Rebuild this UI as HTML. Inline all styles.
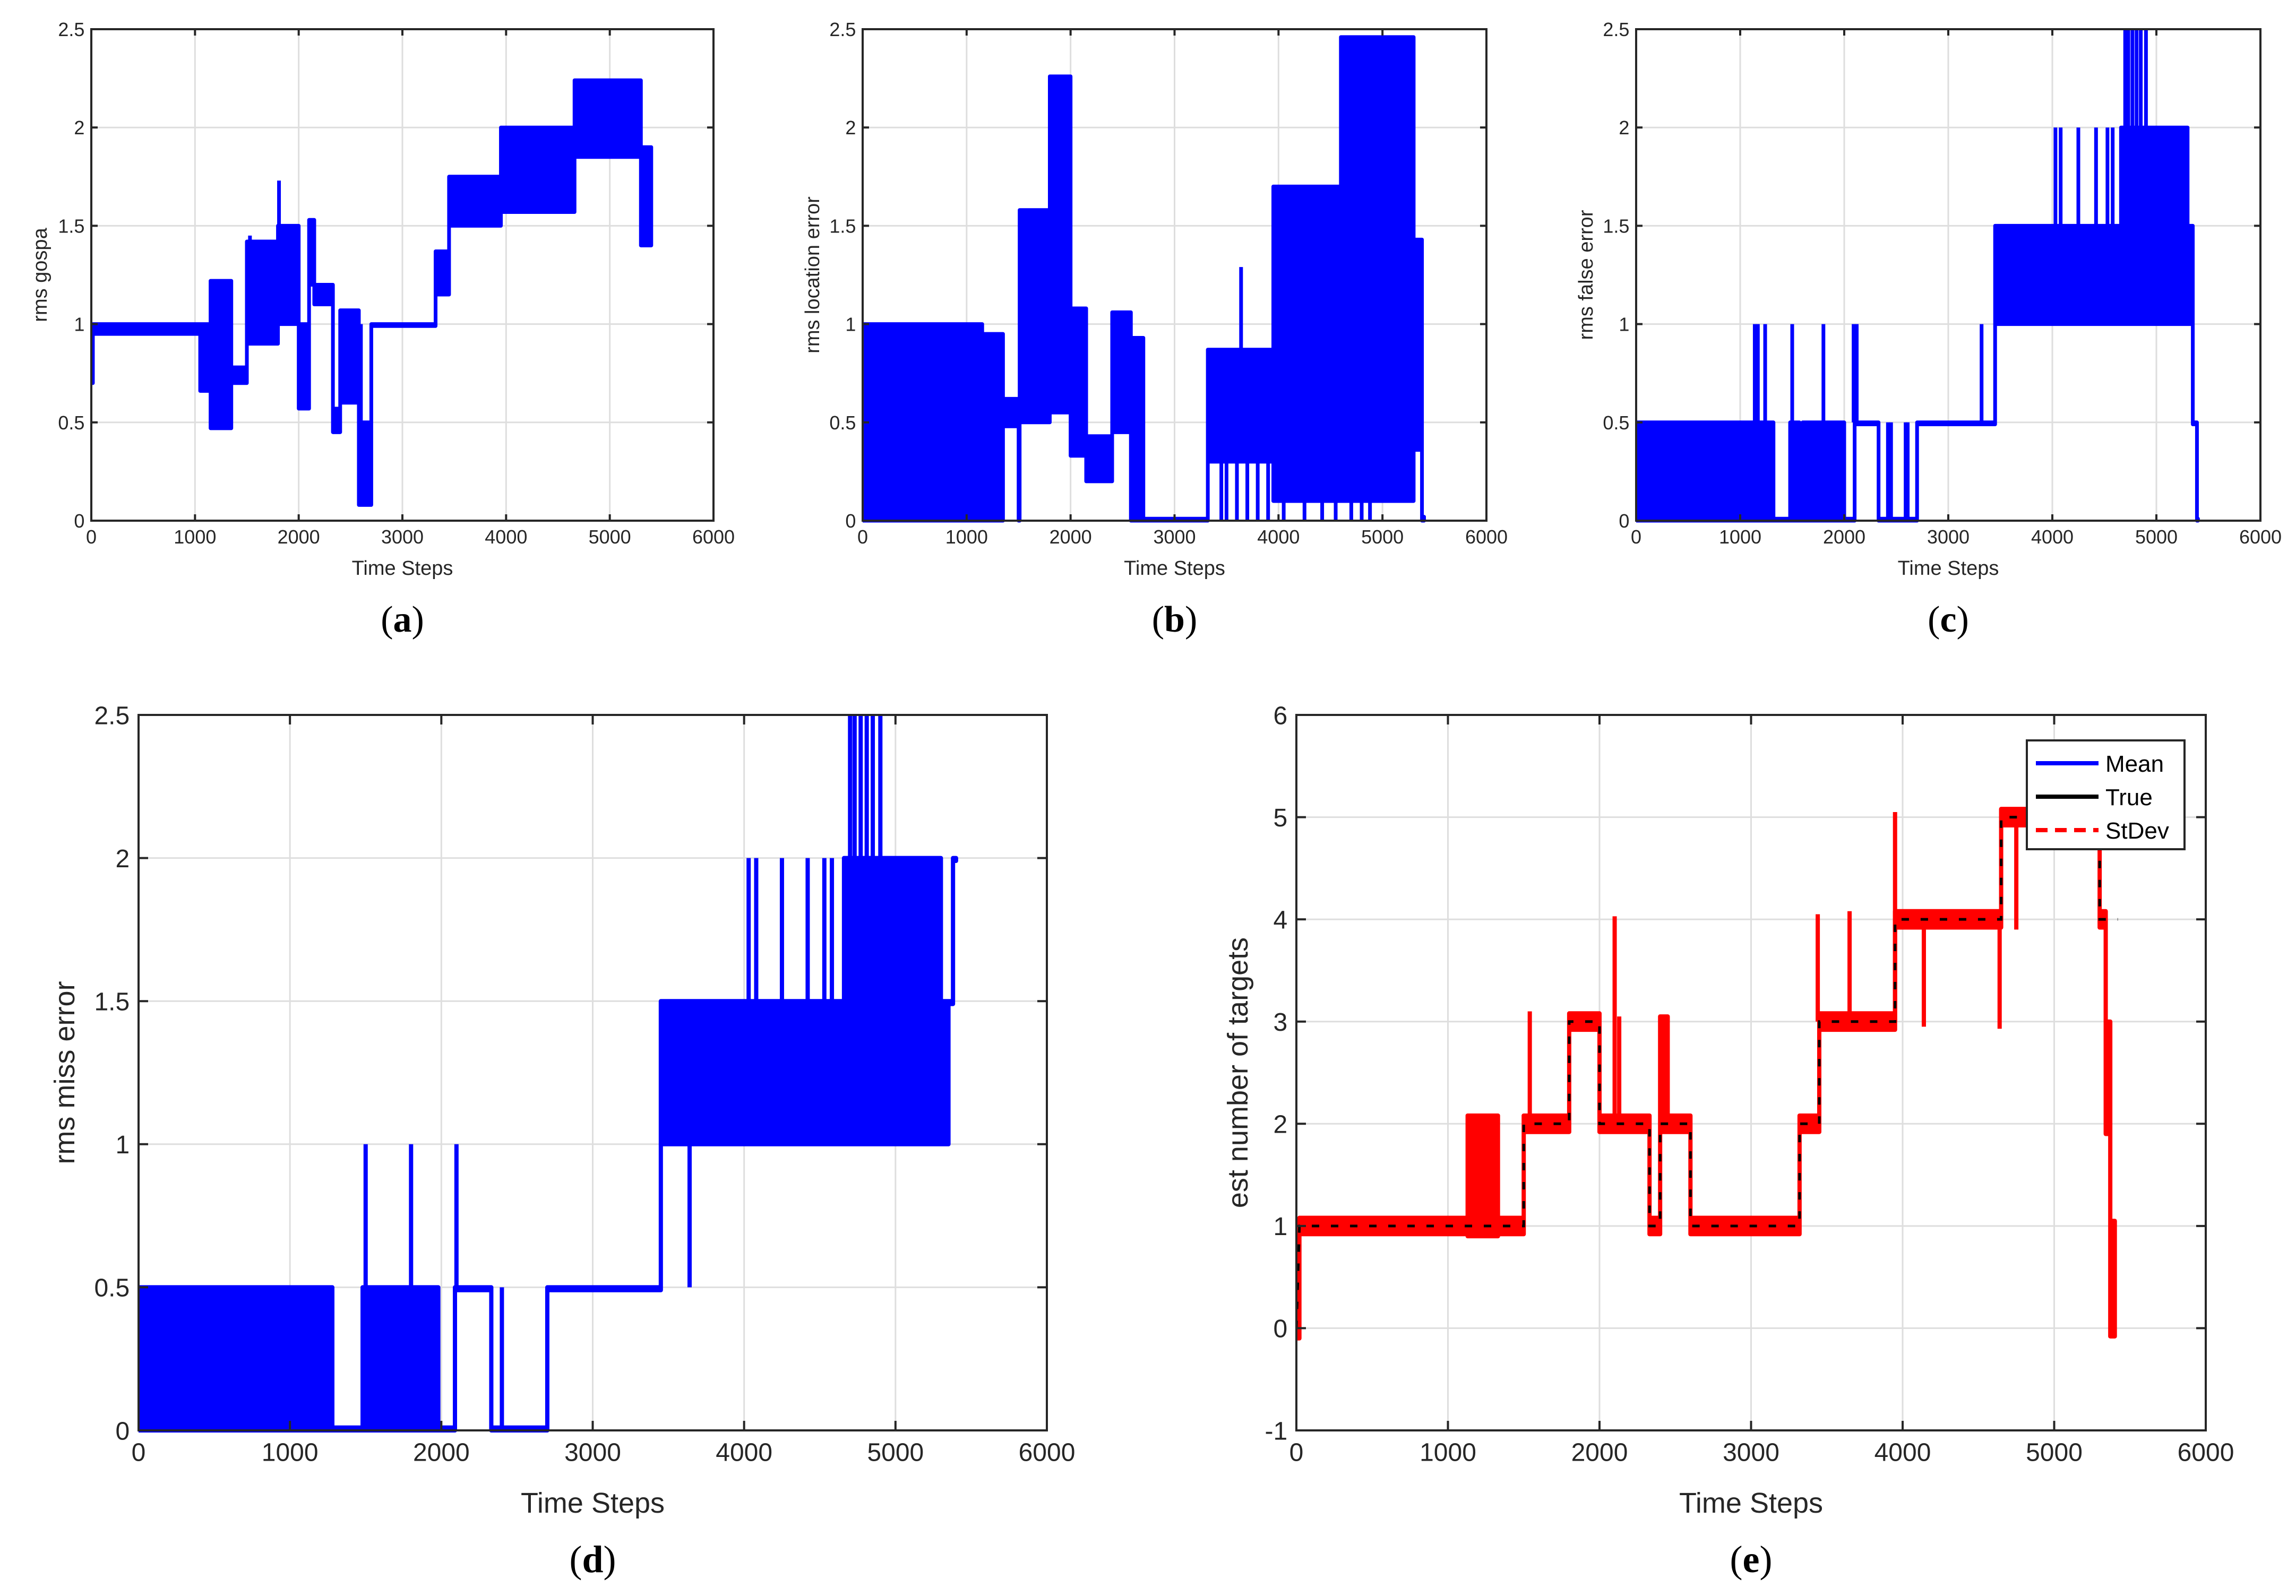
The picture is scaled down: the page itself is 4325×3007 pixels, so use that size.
<!DOCTYPE html>
<html><head><meta charset="utf-8"><style>
html,body{margin:0;padding:0;background:#fff;}
svg{display:block;font-family:"Liberation Sans",Arial,sans-serif;}
</style></head><body>
<svg id="fig" width="4325" height="3007" viewBox="0 0 4325 3007" xmlns="http://www.w3.org/2000/svg"></svg>
<script>
// ---- data (segments: [tStart, tEnd, low, high]) ----
const xTicks = [0,1000,2000,3000,4000,5000,6000];
const yTicksSmall = [0,0.5,1,1.5,2,2.5];
const yTicksE = [-1,0,1,2,3,4,5,6];

const gospaBand = [[0,15,0.7,0.99],[15,1050,0.95,1.0],[1050,1150,0.66,1.0],[1150,1350,0.47,1.22],[1350,1500,0.7,0.78],[1500,1800,0.9,1.42],[1800,2000,1.0,1.5],[2000,2100,0.57,1.0],[2100,2150,1.2,1.53],[2150,2330,1.1,1.2],[2330,2400,0.45,0.57],[2400,2580,0.6,1.07],[2580,2700,0.08,0.5],[2700,3320,0.99,1.0],[3320,3450,1.15,1.37],[3450,3950,1.5,1.75],[3950,4660,1.57,2.0],[4660,5300,1.85,2.24],[5300,5400,1.4,1.9]];
const gospaSpikeT = [1810,2600,1530];
const gospaSpikeLo = [1.2,0.3,1.0];
const gospaSpikeHi = [1.73,1.0,1.45];

const locBand = [[0,1150,0,1.0],[1150,1350,0,0.95],[1350,1500,0.48,0.62],[1500,1510,0,0.6],[1510,1800,0.5,1.58],[1800,2000,0.55,2.26],[2000,2150,0.33,1.08],[2150,2400,0.2,0.43],[2400,2580,0.45,1.06],[2580,2700,0,0.93],[2700,3320,0,0.01],[3320,3950,0.3,0.87],[3950,4600,0.1,1.7],[4600,5300,0.1,2.46],[5300,5380,0.36,1.43],[5380,5400,0,0.02]];
const locSpikeT = [3640,3450,3500,3600,3700,3800,3900,4050,4250,4420,4550,4700,4800,4880];
const locSpikeLo = [0.3,0,0,0,0,0,0,0,0,0,0,0,0,0];
const locSpikeHi = [1.29,0.6,0.6,0.6,0.6,0.6,0.6,0.6,0.6,0.6,0.6,0.6,0.6,0.6];

const falseBand = [[0,1320,0,0.5],[1320,1480,0,0.01],[1480,1570,0,0.5],[1570,1600,0,0.01],[1600,2000,0,0.5],[2000,2100,0,0.01],[2100,2330,0.49,0.5],[2330,2700,0,0.01],[2700,3450,0.49,0.5],[3450,4660,1.0,1.5],[4660,5300,1.0,2.0],[5300,5350,1.0,1.5],[5350,5390,0.49,0.5],[5390,5400,0,0.01]];
const falseSpikeT = [1140,1170,1240,1500,1800,2090,2120,3320,2420,2450,2590,2610,4030,4080,4250,4420,4530,4580,4700,4730,4770,4810,4850,4900];
const falseSpikeLo = [0.5,0.5,0.5,0.5,0.5,0.5,0.5,0.5,0,0,0,0,1.5,1.5,1.5,1.5,1.5,1.5,2,2,2,2,2,2];
const falseSpikeHi = [1,1,1,1,1,1,1,1,0.5,0.5,0.5,0.5,2,2,2,2,2,2,2.5,2.5,2.5,2.5,2.5,2.5];

const missBand = [[0,1280,0,0.5],[1280,1480,0,0.01],[1480,1620,0,0.5],[1620,1980,0,0.5],[1980,2090,0,0.01],[2090,2330,0.49,0.5],[2330,2700,0,0.01],[2700,3450,0.49,0.5],[3450,4660,1.0,1.5],[4660,4760,1.0,2.0],[4760,5300,1.0,2.0],[5300,5350,1.0,1.5],[5350,5380,1.49,1.5],[5380,5400,1.99,2.0]];
const missSpikeT = [1500,1800,2100,2400,3640,4030,4080,4250,4420,4530,4580,4700,4730,4770,4810,4850,4900];
const missSpikeLo = [0.5,0.5,0.5,0,0.5,1.5,1.5,1.5,1.5,1.5,1.5,2,2,2,2,2,2];
const missSpikeHi = [1,1,1,0.5,1,2,2,2,2,2,2,2.5,2.5,2.5,2.5,2.5,2.5];

const trueSteps = [[0,20,0,1],[20,1500,1,1],[1500,1800,2,2],[1800,2000,3,3],[2000,2330,2,2],[2330,2400,1,1],[2400,2600,2,2],[2600,3320,1,1],[3320,3450,2,2],[3450,3950,3,3],[3950,4650,4,4],[4650,5300,5,5],[5300,5420,4,4]];
const estBand = [[0,20,-0.1,1.0],[20,1130,0.92,1.08],[1130,1330,0.9,2.08],[1330,1500,0.92,1.08],[1500,1800,1.92,2.08],[1800,2000,2.92,3.08],[2000,2330,1.92,2.08],[2330,2400,0.92,1.08],[2400,2450,1.92,3.05],[2450,2600,1.92,2.08],[2600,3320,0.92,1.08],[3320,3450,1.92,2.08],[3450,3950,2.92,3.08],[3950,4650,3.92,4.08],[4650,5300,4.92,5.08],[5300,5340,3.92,4.08],[5340,5370,1.9,3.0],[5370,5400,-0.08,1.05]];
const estSpikeT = [1540,2100,2130,3440,3650,3950,4140,4640,4750];
const estSpikeLo = [2.0,2.0,2.0,3.0,3.0,3.0,2.95,2.93,3.9];
const estSpikeHi = [3.1,4.03,3.05,4.05,4.08,5.05,4.0,4.0,5.0];

// ---- drawing ----
const NS = "http://www.w3.org/2000/svg";
const svg = document.getElementById('fig');
function mk(tag, attrs, parent){
  const e = document.createElementNS(NS, tag);
  for (const k in attrs) e.setAttribute(k, attrs[k]);
  (parent||svg).appendChild(e);
  return e;
}
function panel(cfg){
  const g = mk('g', {});
  
  
  const X = t => cfg.x0 + (t - 0) / 6000 * (cfg.x1 - cfg.x0);
  const Y = v => cfg.y1 - (v - cfg.ymin) / (cfg.ymax - cfg.ymin) * (cfg.y1 - cfg.y0);
  mk('rect', {x:cfg.x0, y:cfg.y0, width:cfg.x1-cfg.x0, height:cfg.y1-cfg.y0, fill:'#fff'}, g);
  xTicks.forEach(t => { mk('line', {x1:X(t), x2:X(t), y1:cfg.y0, y2:cfg.y1, stroke:'#dedede', 'stroke-width':3}, g); });
  cfg.yt.forEach(v => { mk('line', {x1:cfg.x0, x2:cfg.x1, y1:Y(v), y2:Y(v), stroke:'#dedede', 'stroke-width':3}, g); });
  const clipId = 'clip_' + cfg.name;
  const cp = mk('clipPath', {id:clipId}, g);
  mk('rect', {x:cfg.x0, y:cfg.y0-4, width:cfg.x1-cfg.x0, height:cfg.y1-cfg.y0+8}, cp);
  const dg = mk('g', {'clip-path':'url(#'+clipId+')'}, g);
  function band(seg, color, nm){
    let up = [], lo = [];
    seg.forEach(s => { up.push(X(s[0])+','+Y(s[3]), X(s[1])+','+Y(s[3])); lo.unshift(X(s[1])+','+Y(s[2]), X(s[0])+','+Y(s[2])); });
    const p = mk('polygon', {points: up.concat(lo).join(' '), fill:color, stroke:color, 'stroke-width':cfg.lw, 'stroke-linejoin':'round'}, dg);
    
    
  }
  band(cfg.band, cfg.color, cfg.name + '-series');
  cfg.st.forEach((t, i) => {
    const l = mk('line', {x1:X(t), x2:X(t), y1:Y(cfg.slo[i]), y2:Y(cfg.shi[i]), stroke:cfg.color, 'stroke-width':cfg.lw}, dg);
    
    
  });
  if (cfg.trueSteps){
    let pts = [];
    cfg.trueSteps.forEach(s => { pts.push(X(s[0])+','+Y(s[2]), X(s[1])+','+Y(s[3])); });
    const pl = mk('polyline', {points:pts.join(' '), fill:'none', stroke:'#000', 'stroke-width':5, 'stroke-dasharray':'14 22'}, dg);
    
    
  }
  mk('rect', {x:cfg.x0, y:cfg.y0, width:cfg.x1-cfg.x0, height:cfg.y1-cfg.y0, fill:'none', stroke:'#262626', 'stroke-width':4}, g);
  const tl = cfg.big ? 18 : 12;
  xTicks.forEach(t => {
    mk('line', {x1:X(t), x2:X(t), y1:cfg.y1, y2:cfg.y1-tl, stroke:'#262626', 'stroke-width':4}, g);
    mk('line', {x1:X(t), x2:X(t), y1:cfg.y0, y2:cfg.y0+tl, stroke:'#262626', 'stroke-width':4}, g);
    const tx = mk('text', {x:X(t), y:cfg.y1 + cfg.fs*1.2, 'font-size':cfg.fs, 'text-anchor':'middle', fill:'#262626'}, g);
    tx.textContent = t;
    
    
  });
  cfg.yt.forEach(v => {
    mk('line', {x1:cfg.x0, x2:cfg.x0+tl, y1:Y(v), y2:Y(v), stroke:'#262626', 'stroke-width':4}, g);
    mk('line', {x1:cfg.x1, x2:cfg.x1-tl, y1:Y(v), y2:Y(v), stroke:'#262626', 'stroke-width':4}, g);
    const tx = mk('text', {x:cfg.x0 - cfg.fs*0.35, y:Y(v) + cfg.fs*0.36, 'font-size':cfg.fs, 'text-anchor':'end', fill:'#262626'}, g);
    tx.textContent = v;
    
    
  });
  const xl = mk('text', {x:(cfg.x0+cfg.x1)/2, y:cfg.xly, 'font-size':cfg.lfs, 'text-anchor':'middle', fill:'#262626'}, g);
  xl.textContent = 'Time Steps';
  
  
  const yl = mk('text', {x:0, y:0, 'font-size':cfg.lfs, 'text-anchor':'middle', fill:'#262626', transform:'translate('+cfg.ylx+','+((cfg.y0+cfg.y1)/2)+') rotate(-90)'}, g);
  yl.textContent = cfg.ylabel;
  
  
  const cap = mk('text', {x:(cfg.x0+cfg.x1)/2, y:cfg.capy, 'font-size':cfg.cfs, 'text-anchor':'middle', fill:'#000', 'font-family':'"Liberation Serif",serif'}, g);
  cap.innerHTML = '(<tspan font-weight="bold">' + cfg.cap + '</tspan>)';
  
  
  return {X, Y, g};
}
const small = {ymin:0, ymax:2.5, yt:yTicksSmall, y0:55, y1:981, fs:36, lfs:38, xly:1083, capy:1190, cfs:70, lw:7, color:'#0000ff'};
panel(Object.assign({}, small, {name:'panel-a-gospa', x0:172, x1:1344, band:gospaBand, st:gospaSpikeT, slo:gospaSpikeLo, shi:gospaSpikeHi, ylabel:'rms gospa', ylx:88, cap:'a'}));
panel(Object.assign({}, small, {name:'panel-b-location', x0:1625, x1:2800, band:locBand, st:locSpikeT, slo:locSpikeLo, shi:locSpikeHi, ylabel:'rms location error', ylx:1543, cap:'b'}));
panel(Object.assign({}, small, {name:'panel-c-false', x0:3082, x1:4258, band:falseBand, st:falseSpikeT, slo:falseSpikeLo, shi:falseSpikeHi, ylabel:'rms false error', ylx:3000, cap:'c'}));
const big = {y0:1347, y1:2695, fs:48, lfs:54, xly:2850, capy:2962, cfs:72, lw:8, big:true};
panel(Object.assign({}, big, {name:'panel-d-miss', ymin:0, ymax:2.5, yt:yTicksSmall, x0:261, x1:1972, band:missBand, st:missSpikeT, slo:missSpikeLo, shi:missSpikeHi, ylabel:'rms miss error', ylx:140, cap:'d', color:'#0000ff'}));
panel(Object.assign({}, big, {name:'panel-e-targets', ymin:-1, ymax:6, yt:yTicksE, x0:2442, x1:4155, band:estBand, st:estSpikeT, slo:estSpikeLo, shi:estSpikeHi, ylabel:'est number of targets', ylx:2350, cap:'e', color:'#ff0000', trueSteps:trueSteps}));
const lg = mk('g', {});


mk('rect', {x:3818, y:1395, width:297, height:205, fill:'#fff', stroke:'#262626', 'stroke-width':4}, lg);
const entries = [['Mean','#0000ff',''],['True','#000',''],['StDev','#ff0000','22 14']];
entries.forEach((e, i) => {
  const y = 1438 + i*63;
  const ln = mk('line', {x1:3835, x2:3953, y1:y, y2:y, stroke:e[1], 'stroke-width':8, 'stroke-dasharray':e[2]}, lg);
  
  
  const t = mk('text', {x:3966, y:y+16, 'font-size':44, fill:'#000'}, lg);
  t.textContent = e[0];
  
  
});
</script>
</body></html>
